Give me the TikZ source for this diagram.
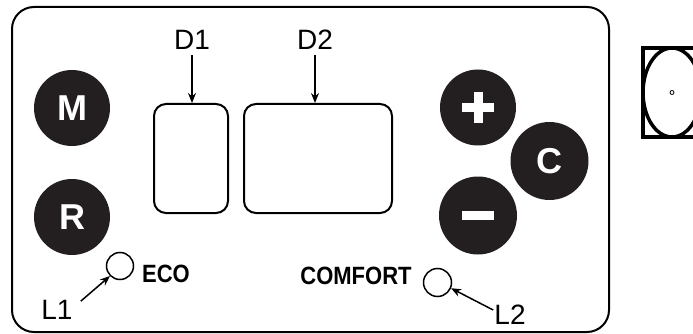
\documentclass[tikz,border=0pt]{standalone}
\usepackage{fontspec}
\setmainfont{Liberation Sans}
\newfontfamily\ledfont[FakeStretch=0.88]{Liberation Sans}
\usetikzlibrary{arrows.meta}
\definecolor{btnfill}{HTML}{231F20}
\tikzset{
  btn/.style={circle, fill=btnfill, draw=none, minimum size=76pt, inner sep=0pt,
    text=white, font=\fontsize{36}{40}\selectfont\bfseries},
  dispbox/.style={draw=black, line width=2pt, rounded corners=12pt, inner sep=0pt},
  lbl/.style={inner sep=0pt, font=\fontsize{28}{32}\selectfont},
  ledlbl/.style={inner sep=0pt, font=\ledfont\fontsize{25}{28}\selectfont\bfseries},
  led/.style={circle, draw=black, line width=1.5pt, minimum size=27pt, inner sep=0pt},
  arr/.style={line width=1.5pt, -{Stealth[length=10pt,width=8pt]}},
  bar/.style={fill=white, draw=none}
}
\begin{document}
\begin{tikzpicture}[x=1pt, y=-1pt]
\useasboundingbox (0,0) rectangle (693,334);
% panel
\draw[line width=2pt, rounded corners=22pt] (12,7) rectangle (609,332);
% buttons
\node[btn] (M) at (72,108) {M};
\node[btn] (R) at (72,217) {R};
\node[btn] (plus) at (478,107.5) {};
\node[btn, minimum size=78pt] (C) at (549.5,161) {C};
\node[btn, minimum size=78pt] (minus) at (478,215.5) {};
\fill[bar] ([xshift=-16pt,yshift=-4.5pt]plus.center) rectangle ([xshift=16pt,yshift=4.5pt]plus.center);
\fill[bar] ([xshift=-4.5pt,yshift=-15.5pt]plus.center) rectangle ([xshift=4.5pt,yshift=15.5pt]plus.center);
\fill[bar] ([xshift=-16pt,yshift=-4.3pt]minus.center) rectangle ([xshift=16pt,yshift=4.3pt]minus.center);
% displays
\node[dispbox, minimum width=74pt, minimum height=109pt] (box1) at (191,158.5) {};
\node[dispbox, minimum width=148pt, minimum height=109pt] (box2) at (318,158.5) {};
\node[lbl] (D1) at (192,40) {D1};
\node[lbl] (D2) at (315,40) {D2};
\draw[arr] ([yshift=-5pt]D1.south) -- (D1.south |- box1.north);
\draw[arr] ([yshift=-5pt]D2.south) -- (D2.south |- box2.north);
% leds
\node[led] (led1) at (120,266) {};
\node[led, minimum size=28pt] (led2) at (437.5,282.5) {};
\node[ledlbl] (eco) at (166,274) {ECO};
\node[ledlbl] (comfort) at (356,275.5) {COMFORT};
\node[lbl] (L1) at (57,310) {L1};
\node[lbl] (L2) at (510,315) {L2};
\draw[arr] ([xshift=8pt,yshift=-1pt]L1.north east) -- (led1.225);
\draw[arr] ([xshift=-1pt,yshift=-5pt]L2.north west) -- (led2.337);
% icon at right
\draw[line width=3.5pt] (643,48) rectangle (710,137);
\draw[line width=3.5pt] (672,92.5) ellipse [x radius=29pt, y radius=44.5pt];
\draw[line width=0.8pt] (672,92.5) circle [radius=2pt];
\end{tikzpicture}
\end{document}
